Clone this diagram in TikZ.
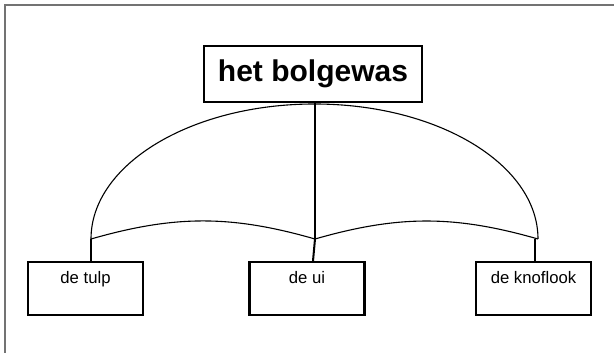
\documentclass[tikz,border=0pt]{standalone}
\usepackage{fontspec}
\setmainfont{Liberation Sans}
\usetikzlibrary{positioning,calc}

\begin{document}
\begin{tikzpicture}[
    x=1pt, y=1pt,
    frame/.style     = {draw=black!55, line width=1.4pt},
    topbox/.style    = {draw, line width=2.1pt, minimum width=218pt, minimum height=56pt,
                        inner sep=0pt, font=\fontsize{30}{35}\selectfont\bfseries},
    childbox/.style  = {draw, line width=2.1pt, minimum width=115pt, inner sep=3pt,
                        text height=19pt, text depth=28pt, font=\fontsize{16.7}{20}\selectfont},
    link/.style      = {line width=1.1pt},
    stub/.style      = {line width=2pt}
  ]

% =========================================================
% Canvas and frame (only top and left edges are visible)
% =========================================================
\useasboundingbox (0,0) rectangle (614,353);
\draw[frame] (614,348) -- (5,348) -- (5,0);

% =========================================================
% Nodes
% =========================================================
\node[topbox]   (bolgewas) at (313,279)  {het bolgewas};
\node[childbox] (tulp)     at (85.5,64.5) {de tulp};
\node[childbox] (ui)       at (307,64.5)  {de ui};
\node[childbox] (knoflook) at (533.5,64.5) {de knoflook};

% Branch points of the umbrella
\coordinate (lft) at (91,114);
\coordinate (hub) at (315,114);
\coordinate (rgt) at (538,114);

% =========================================================
% Connectors
% =========================================================
\draw[link] (hub |- bolgewas.south) -- (hub);
\draw[link] (lft) arc[start angle=180, end angle=0, x radius=223.5, y radius=135];
\draw[link] (lft) to[out=16, in=164] (hub);
\draw[link] (hub) to[out=16, in=164] (rgt);

% short stubs down to the boxes
\draw[stub] (tulp.north -| lft) -- (lft);
\draw[stub] ([xshift=6pt]ui.north) -- (hub);
\draw[stub] ([xshift=-3pt]knoflook.north -| rgt) -- ([xshift=-3pt]rgt);

\end{tikzpicture}
\end{document}
